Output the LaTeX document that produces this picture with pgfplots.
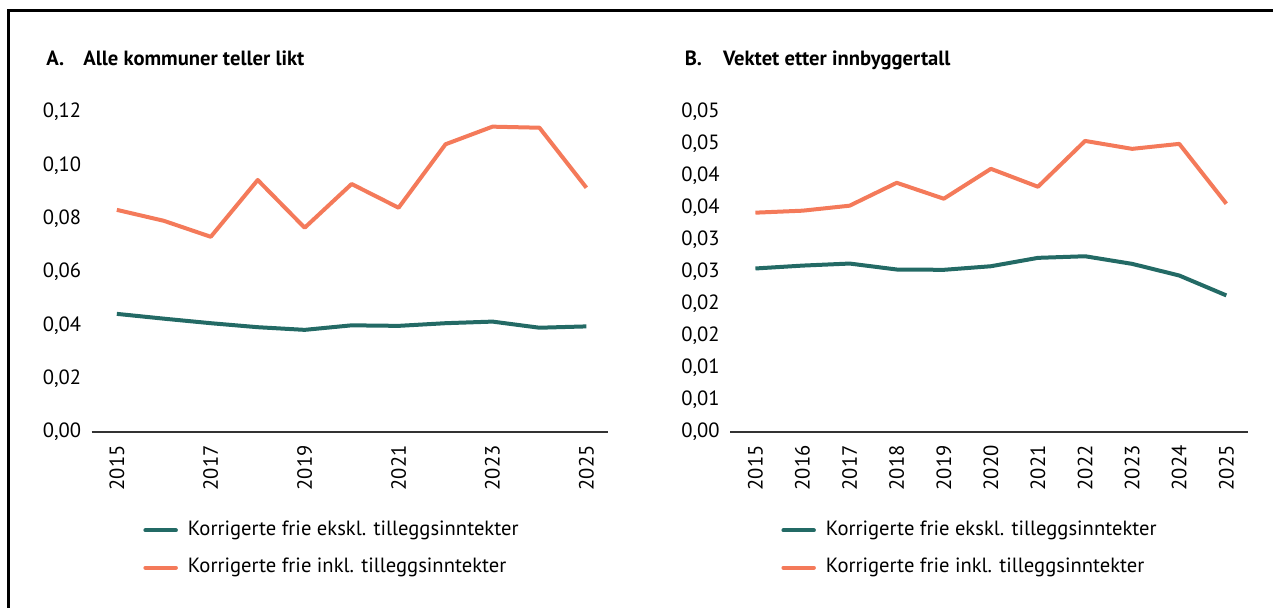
\documentclass[border=0pt]{standalone}
\usepackage{fontspec}
\setmainfont{PT Sans}
\usepackage{pgfplots}
\pgfplotsset{compat=1.18}
\definecolor{teal1}{HTML}{236A65}
\definecolor{orange1}{HTML}{F47A5A}
\newcommand\f{\fontsize{10.3bp}{12.4bp}\selectfont}
\pgfplotsset{
  panel/.style={
    scale only axis,
    height=160bp,
    ymin=0,
    xmin=2014.46, xmax=2025.46,
    scaled y ticks=false, scaled x ticks=false,
    axis x line*=bottom, axis y line*=left,
    y axis line style={draw=none},
    x axis line style={draw=black!80, line width=0.75bp},
    major tick length=0pt,
    tick label style={font=\f, inner sep=0pt},
    yticklabel style={anchor=east, xshift=-5bp},
    xticklabel style={yshift=-6.5bp, rotate=90, anchor=east},
    legend cell align=left,
    legend image code/.code={\draw[##1, line width=2bp, line cap=round] (1bp,0bp) -- (16.25bp,0bp);},
    legend style={draw=none, fill=none, inner sep=0pt, row sep=8.6bp, column sep=5bp,
      nodes={inner sep=0pt, text height=7.5bp, text depth=2.5bp, font=\f}},
  },
  s1/.style={color=teal1, line width=2bp, no markers, line join=round},
  s2/.style={color=orange1, line width=2bp, no markers, line join=round},
}
\begin{document}
\begin{tikzpicture}
\useasboundingbox (0,0) rectangle (636.5bp,304bp);
\draw[line width=1.5bp] (4.25bp,-2bp) -- (4.25bp,298.75bp) -- (640bp,298.75bp);
\node[anchor=base west, inner sep=0pt, font=\f\bfseries] at (23bp,271bp) {A.};
\node[anchor=base west, inner sep=0pt, font=\f\bfseries] at (41.5bp,271bp) {Alle kommuner teller likt};
\node[anchor=base west, inner sep=0pt, font=\f\bfseries] at (342.2bp,271bp) {B.};
\node[anchor=base west, inner sep=0pt, font=\f\bfseries] at (361.4bp,271bp) {Vektet etter innbyggertall};

\begin{axis}[panel, at={(45.75bp,88bp)}, anchor=south west, width=258.25bp,
  ymax=0.12,
  ytick={0,0.02,0.04,0.06,0.08,0.10,0.12},
  yticklabels={{0,00},{0,02},{0,04},{0,06},{0,08},{0,10},{0,12}},
  xtick={2015,2017,2019,2021,2023,2025},
  xticklabels={2015,2017,2019,2021,2023,2025},
  legend style={at={(axis description cs:0.0997,-0.275)}, anchor=north west},
]
\addplot[s1] coordinates {(2015,0.0443) (2016,0.0425) (2017,0.0408) (2018,0.0393) (2019,0.0383) (2020,0.0400) (2021,0.0398) (2022,0.0408) (2023,0.0414) (2024,0.0391) (2025,0.0396)};
\addlegendentry{Korrigerte frie ekskl. tilleggsinntekter}
\addplot[s2] coordinates {(2015,0.0833) (2016,0.0792) (2017,0.0732) (2018,0.0945) (2019,0.0766) (2020,0.0930) (2021,0.0841) (2022,0.1079) (2023,0.1145) (2024,0.1141) (2025,0.0916)};
\addlegendentry{Korrigerte frie inkl. tilleggsinntekter}
\end{axis}

\begin{axis}[panel, at={(365bp,88bp)}, anchor=south west, width=259bp,
  ymax=0.05,
  ytick={0,0.005,0.01,0.015,0.02,0.025,0.03,0.035,0.04,0.045,0.05},
  yticklabels={{0,00},{0,01},{0,01},{0,02},{0,02},{0,03},{0,03},{0,04},{0,04},{0,05},{0,05}},
  xtick={2015,2016,2017,2018,2019,2020,2021,2022,2023,2024,2025},
  xticklabels={2015,2016,2017,2018,2019,2020,2021,2022,2023,2024,2025},
  legend style={at={(axis description cs:0.0985,-0.275)}, anchor=north west},
]
\addplot[s1] coordinates {(2015,0.02555) (2016,0.0260) (2017,0.02632) (2018,0.02539) (2019,0.02534) (2020,0.0259) (2021,0.02721) (2022,0.02746) (2023,0.02627) (2024,0.02445) (2025,0.02134)};
\addlegendentry{Korrigerte frie ekskl. tilleggsinntekter}
\addplot[s2] coordinates {(2015,0.03427) (2016,0.03458) (2017,0.03536) (2018,0.03894) (2019,0.03645) (2020,0.04112) (2021,0.03832) (2022,0.04548) (2023,0.04424) (2024,0.04502) (2025,0.03567)};
\addlegendentry{Korrigerte frie inkl. tilleggsinntekter}
\end{axis}
\end{tikzpicture}
\end{document}
